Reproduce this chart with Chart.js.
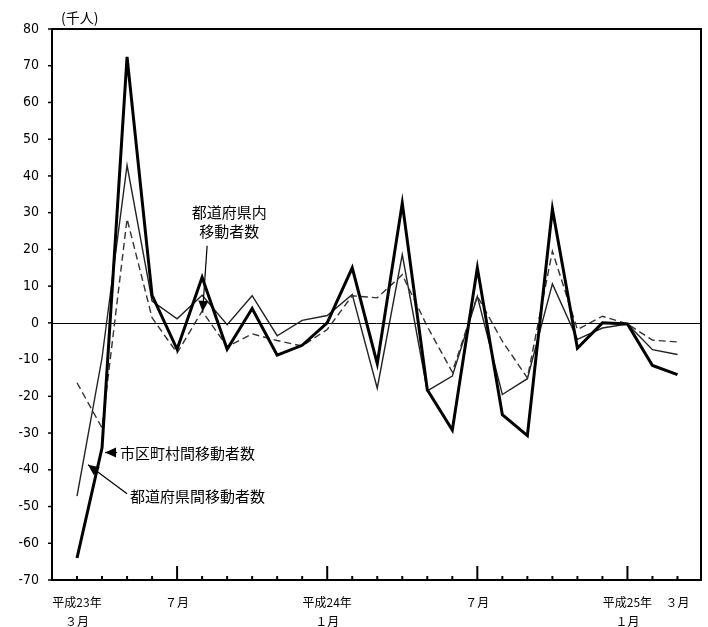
<!DOCTYPE html>
<html>
<head>
<meta charset="utf-8">
<script src="https://cdn.jsdelivr.net/npm/chart.js@4.4.1/dist/chart.umd.min.js"></script>
<style>
  html, body { margin: 0; padding: 0; background: #fff; }
  #wrap { width: 708px; height: 627px; position: relative; }
</style>
</head>
<body>
<div id="wrap"><canvas id="chart"></canvas></div>
<script>
// 平成23年3月 .. 平成25年3月 (25 months)
const months = [
  '23年3月', '4月', '5月', '6月', '7月', '8月', '9月', '10月', '11月', '12月',
  '24年1月', '2月', '3月', '4月', '5月', '6月', '7月', '8月', '9月', '10月', '11月', '12月',
  '25年1月', '2月', '3月'
];

// 前年同月差（千人）
const shikuchosonkan = [-64, -34, 72.4, 7.5, -7.2, 12.4, -7.2, 3.9, -8.8, -6.1, 0, 15, -11.1,
  32.6, -18.2, -29.2, 15, -25, -30.7, 31, -6.9, 0, -0.3, -11.6, -14.1];
const todofukenkan = [-47.2, -9.5, 42.9, 5.9, 1.1, 7.5, -0.5, 7.4, -3.5, 0.7, 2, 7.7, -17.8,
  18.6, -18.5, -14.5, 7.2, -19.5, -15.2, 10.6, -4.5, -1.4, -0.3, -7.3, -8.6];
const todofukennai = [-16.3, -28.6, 28.3, 1.4, -8.2, 3.2, -6.5, -3, -4.8, -6.3, -1.8, 7.4, 6.8,
  13.1, -1, -13.4, 7.3, -5, -15, 19.5, -1.8, 1.8, -0.3, -4.7, -5.2];

const yTicks = [-70, -60, -50, -40, -30, -20, -10, 0, 10, 20, 30, 40, 50, 60, 70, 80];
const xTickIdx = [0, 4, 10, 16, 22, 24];
const xTickText = [['平成23年', '３月'], ['７月'], ['平成24年', '１月'], ['７月'], ['平成25年', '１月'], ['３月']];
const majorIdx = [4, 10, 16, 22];

const JP = "'Noto Sans CJK JP', sans-serif";

// callouts, positioned in data units
const notes = [
  { text: '都道府県内', x: 6.08, y: 30.0, align: 'center' },
  { text: '移動者数', x: 6.08, y: 25.0, align: 'center' },
  { text: '市区町村間移動者数', x: 1.72, y: -35.4, align: 'left' },
  { text: '都道府県間移動者数', x: 2.12, y: -47.2, align: 'left' }
];
const arrows = [
  { x1: 5.20, y1: 21.0, x2: 5.02, y2: 3.0 },
  { x1: 1.60, y1: -35.3, x2: 1.12, y2: -35.3 },
  { x1: 2.00, y1: -46.5, x2: 0.44, y2: -38.6 }
];

const toPoints = arr => arr.map((v, i) => ({ x: i, y: v }));

const framePlugin = {
  id: 'frame',
  beforeDatasetsDraw(chart) {
    const { ctx, chartArea: a, scales: { y } } = chart;
    ctx.save();
    ctx.strokeStyle = '#000';
    ctx.lineWidth = 1;
    const y0 = Math.round(y.getPixelForValue(0)) + 0.5;
    ctx.beginPath();
    ctx.moveTo(a.left, y0);
    ctx.lineTo(a.right, y0);
    ctx.stroke();
    ctx.restore();
  },
  afterDatasetsDraw(chart) {
    const { ctx, chartArea: a, scales: { x, y } } = chart;
    ctx.save();
    ctx.strokeStyle = '#000';
    ctx.fillStyle = '#000';

    // frame
    ctx.lineWidth = 2;
    ctx.strokeRect(a.left, a.top, a.right - a.left, a.bottom - a.top);

    // y ticks (outward)
    ctx.lineWidth = 1.5;
    yTicks.forEach(v => {
      const py = y.getPixelForValue(v);
      ctx.beginPath();
      ctx.moveTo(a.left - 4, py);
      ctx.lineTo(a.left, py);
      ctx.stroke();
    });

    // x ticks (inward)
    ctx.lineWidth = 2;
    months.forEach((m, i) => {
      const px = x.getPixelForValue(i);
      const len = majorIdx.includes(i) ? 14 : 4;
      ctx.beginPath();
      ctx.moveTo(px, a.bottom);
      ctx.lineTo(px, a.bottom - len);
      ctx.stroke();
    });

    // unit
    ctx.font = '14px ' + JP;
    ctx.textAlign = 'left';
    ctx.textBaseline = 'middle';
    ctx.fillText('(千人)', a.left + 9, a.top - 11);

    // callouts
    ctx.font = '15px ' + JP;
    notes.forEach(n => {
      ctx.textAlign = n.align;
      ctx.fillText(n.text, x.getPixelForValue(n.x), y.getPixelForValue(n.y));
    });

    ctx.lineWidth = 1.2;
    arrows.forEach(ar => {
      const x1 = x.getPixelForValue(ar.x1), y1 = y.getPixelForValue(ar.y1);
      const x2 = x.getPixelForValue(ar.x2), y2 = y.getPixelForValue(ar.y2);
      const ang = Math.atan2(y2 - y1, x2 - x1);
      const hl = 11, hw = 5;
      ctx.beginPath();
      ctx.moveTo(x1, y1);
      ctx.lineTo(x2, y2);
      ctx.stroke();
      ctx.beginPath();
      ctx.moveTo(x2, y2);
      ctx.lineTo(x2 - hl * Math.cos(ang) + hw * Math.sin(ang), y2 - hl * Math.sin(ang) - hw * Math.cos(ang));
      ctx.lineTo(x2 - hl * Math.cos(ang) - hw * Math.sin(ang), y2 - hl * Math.sin(ang) + hw * Math.cos(ang));
      ctx.closePath();
      ctx.fill();
    });
    ctx.restore();
  }
};

new Chart(document.getElementById('chart'), {
  type: 'line',
  data: {
    datasets: [
      {
        label: '市区町村間移動者数',
        data: toPoints(shikuchosonkan),
        borderColor: '#000',
        borderWidth: 3,
        pointRadius: 0,
        tension: 0,
        order: 0
      },
      {
        label: '都道府県間移動者数',
        data: toPoints(todofukenkan),
        borderColor: '#222',
        borderWidth: 1.4,
        pointRadius: 0,
        tension: 0,
        order: 2
      },
      {
        label: '都道府県内移動者数',
        data: toPoints(todofukennai),
        borderColor: '#333',
        borderWidth: 1.4,
        borderDash: [7, 4],
        pointRadius: 0,
        tension: 0,
        order: 1
      }
    ]
  },
  options: {
    responsive: true,
    maintainAspectRatio: false,
    animation: false,
    layout: { padding: { top: 29, right: 7, left: 0, bottom: 0 } },
    plugins: {
      legend: { display: false },
      tooltip: { enabled: false }
    },
    scales: {
      x: {
        type: 'linear',
        min: -1,
        max: 24.94,
        grid: { display: false },
        border: { display: false },
        afterBuildTicks: s => { s.ticks = xTickIdx.map(v => ({ value: v })); },
        afterFit: s => { s.height = 47; },
        ticks: {
          autoSkip: false,
          maxRotation: 0,
          padding: 5,
          color: '#000',
          font: { family: JP, size: 12, lineHeight: 1.6 },
          callback: v => xTickText[xTickIdx.indexOf(v)]
        }
      },
      y: {
        min: -70,
        max: 80,
        grid: { display: false, drawTicks: false },
        border: { display: false },
        afterBuildTicks: s => { s.ticks = yTicks.map(v => ({ value: v })); },
        afterFit: s => { s.width = 52; },
        ticks: {
          padding: 13,
          color: '#000',
          font: { family: "'DejaVu Sans Condensed', 'Liberation Sans Narrow', sans-serif", size: 14 },
          callback: v => String(v)
        }
      }
    }
  },
  plugins: [framePlugin]
});
</script>
</body>
</html>
